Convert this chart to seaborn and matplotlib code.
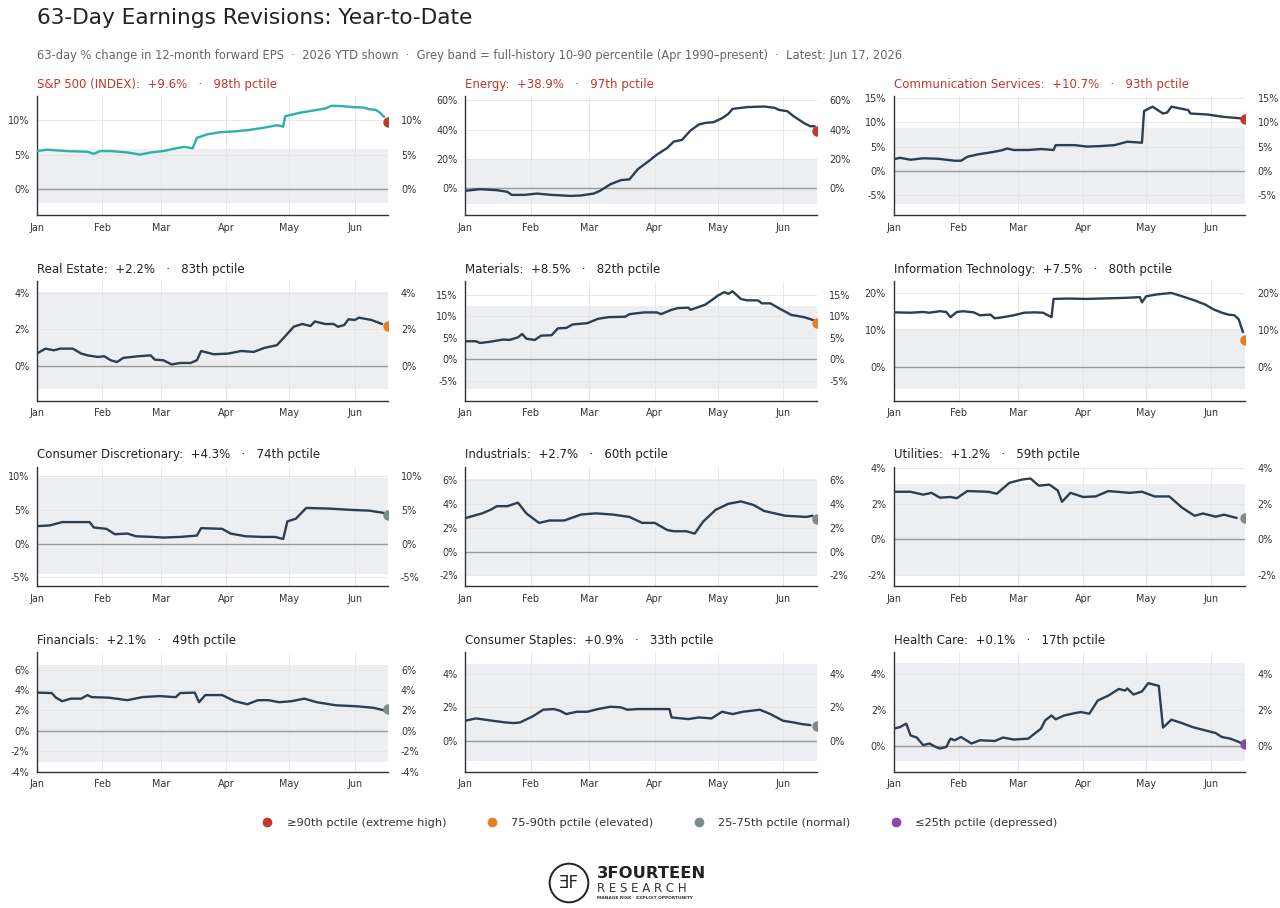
import numpy as np
import pandas as pd
import matplotlib
matplotlib.use('Agg')
from matplotlib import pyplot as plt
from matplotlib.lines import Line2D
from matplotlib.patches import Circle
from matplotlib.ticker import FuncFormatter, FixedLocator
import matplotlib.dates as mdates
import seaborn as sns

# days since Jan 1 2026 / 63-day % change in 12m fwd EPS
spx_days = [0, 5, 14, 24, 27, 30, 35, 43, 49, 54, 60, 66, 70, 74, 76, 81, 87, 93, 100, 107, 114, 117, 118,
            125, 131, 137, 140, 145, 150, 155, 158, 161, 163, 165]
spx_eps = [5.5, 5.7, 5.5, 5.4, 5.1, 5.5, 5.5, 5.3, 5.0, 5.3, 5.5, 5.9, 6.1, 5.9, 7.4, 7.9, 8.2, 8.3, 8.5, 8.8, 9.2, 9.0, 10.5,
           11.0, 11.3, 11.6, 12.0, 11.95, 11.8, 11.75, 11.5, 11.4, 11.0, 10.4]

energy_days = [0, 7, 15, 20, 22, 28, 34, 41, 50, 55, 61, 64, 69, 74, 78, 82, 87, 91, 96, 99, 103, 107, 111, 114,
               118, 122, 125, 127, 134, 142, 147, 149, 153, 156, 161, 164, 166]
energy_eps = [-1.8, -0.7, -1.4, -2.5, -4.6, -4.6, -3.7, -4.6, -5.3, -5.0, -3.7, -1.8, 2.7, 5.5, 6.0, 13.0, 18.3, 22.9,
              27.5, 31.8, 33.0, 39.4, 43.5, 44.6, 45.1, 47.8, 50.8, 54.2, 55.4, 55.8, 54.9, 53.5, 52.6, 49.2, 44.4, 42.3, 42.3]

comm_days = [0, 3, 8, 14, 21, 25, 29, 32, 35, 40, 46, 51, 54, 57, 64, 70, 76, 77, 86, 92, 98, 105, 111, 118, 119,
             123, 128, 130, 132, 140, 141, 149, 157, 165]
comm_eps = [2.4, 2.7, 2.3, 2.6, 2.5, 2.3, 2.1, 2.1, 2.9, 3.4, 3.8, 4.2, 4.6, 4.3, 4.3, 4.5, 4.3, 5.3, 5.3, 5.0, 5.1, 5.3,
            6.0, 5.8, 12.3, 13.2, 11.8, 12.0, 13.2, 12.5, 11.8, 11.6, 11.1, 10.8]

re_days = [0, 4, 8, 11, 17, 21, 24, 29, 32, 35, 38, 41, 48, 54, 56, 60, 64, 68, 73, 76, 78, 84, 91, 97, 103, 108,
           114, 118, 122, 126, 130, 132, 137, 141, 143, 146, 148, 151, 153, 159, 164]
re_eps = [0.67, 0.94, 0.85, 0.94, 0.94, 0.67, 0.57, 0.48, 0.52, 0.30, 0.20, 0.43, 0.52, 0.57, 0.33, 0.30, 0.07, 0.15,
          0.15, 0.30, 0.81, 0.63, 0.67, 0.81, 0.76, 0.98, 1.13, 1.63, 2.15, 2.30, 2.19, 2.44, 2.30, 2.30, 2.15, 2.24,
          2.56, 2.52, 2.65, 2.52, 2.30]

mat_days = [0, 5, 7, 12, 18, 21, 25, 27, 29, 33, 36, 41, 44, 48, 51, 58, 63, 68, 76, 78, 85, 91, 93, 98, 101, 106,
            107, 110, 114, 117, 120, 123, 125, 127, 131, 134, 139, 141, 145, 150, 155, 161, 166]
mat_eps = [4.2, 4.2, 3.8, 4.1, 4.6, 4.5, 5.1, 5.9, 4.8, 4.5, 5.5, 5.6, 7.2, 7.3, 8.1, 8.4, 9.4, 9.8, 9.9, 10.5, 10.9,
           10.9, 10.5, 11.5, 11.9, 12.0, 11.5, 12.0, 12.7, 13.7, 14.8, 15.6, 15.2, 15.8, 14.0, 13.7, 13.7, 13.0, 13.0,
           11.6, 10.3, 9.8, 9.0]

it_days = [0, 8, 14, 17, 22, 25, 27, 30, 33, 38, 41, 46, 48, 52, 57, 62, 67, 71, 75, 76, 83, 92, 98, 111, 117, 118,
           120, 125, 132, 136, 143, 148, 152, 156, 159, 162, 164, 166]
it_eps = [14.8, 14.7, 14.9, 14.7, 15.1, 14.9, 13.5, 14.9, 15.1, 14.8, 14.0, 14.2, 13.2, 13.5, 14.0, 14.7, 14.8, 14.7,
          13.5, 18.4, 18.5, 18.4, 18.5, 18.7, 18.9, 17.5, 19.1, 19.6, 20.0, 19.3, 18.0, 16.9, 15.6, 14.7, 14.2, 14.0,
          12.9, 9.5]

cd_days = [0, 6, 12, 25, 27, 33, 37, 43, 47, 55, 60, 68, 76, 78, 88, 92, 99, 107, 113, 117, 119, 123, 128, 139, 150,
           158, 166]
cd_eps = [2.6, 2.7, 3.2, 3.2, 2.4, 2.2, 1.4, 1.5, 1.1, 1.0, 0.9, 1.0, 1.2, 2.3, 2.2, 1.5, 1.1, 1.0, 1.0, 0.7, 3.3, 3.7,
          5.3, 5.2, 5.0, 4.9, 4.5]

ind_days = [0, 8, 12, 15, 20, 25, 29, 35, 40, 47, 55, 62, 70, 78, 84, 90, 96, 99, 105, 109, 113, 119, 125, 131, 137,
            142, 152, 162, 165]
ind_eps = [2.8, 3.2, 3.5, 3.8, 3.8, 4.1, 3.2, 2.4, 2.6, 2.6, 3.1, 3.2, 3.1, 2.9, 2.4, 2.4, 1.8, 1.7, 1.7, 1.5, 2.5, 3.5,
           4.0, 4.2, 3.9, 3.4, 3.0, 2.9, 3.0]

util_days = [0, 8, 14, 18, 22, 27, 30, 35, 45, 49, 55, 61, 65, 69, 74, 78, 80, 84, 90, 96, 102, 112, 118, 124, 131,
             137, 143, 147, 153, 157, 163]
util_eps = [2.66, 2.66, 2.5, 2.6, 2.33, 2.37, 2.3, 2.7, 2.66, 2.55, 3.16, 3.34, 3.4, 3.0, 3.06, 2.73, 2.1, 2.6, 2.37,
            2.4, 2.7, 2.6, 2.66, 2.4, 2.4, 1.78, 1.32, 1.45, 1.27, 1.38, 1.2]

fin_days = [0, 7, 9, 12, 16, 21, 24, 26, 34, 43, 50, 58, 66, 68, 75, 77, 80, 88, 94, 100, 105, 110, 115, 121, 127,
            133, 142, 152, 160, 165]
fin_eps = [3.74, 3.7, 3.25, 2.9, 3.15, 3.15, 3.5, 3.3, 3.25, 3.0, 3.3, 3.4, 3.3, 3.7, 3.74, 2.8, 3.5, 3.5, 2.9, 2.6,
           3.0, 3.0, 2.8, 2.9, 3.15, 2.8, 2.5, 2.4, 2.25, 2.0]

cs_days = [0, 5, 13, 19, 23, 26, 32, 37, 42, 45, 48, 53, 58, 63, 69, 74, 77, 82, 97, 98, 106, 111, 117, 122, 127, 132,
           140, 145, 151, 156, 160, 164]
cs_eps = [1.2, 1.34, 1.2, 1.1, 1.06, 1.1, 1.46, 1.86, 1.9, 1.8, 1.6, 1.74, 1.74, 1.9, 2.04, 2.0, 1.86, 1.9, 1.9, 1.4,
          1.3, 1.4, 1.34, 1.74, 1.6, 1.74, 1.86, 1.6, 1.2, 1.1, 1.0, 0.94]

hc_days = [0, 3, 6, 8, 11, 14, 17, 20, 22, 25, 27, 29, 32, 37, 41, 48, 52, 57, 64, 67, 70, 72, 75, 77, 81, 86, 89, 93,
           97, 102, 107, 110, 111, 114, 118, 121, 124, 126, 128, 132, 137, 142, 148, 153, 156, 160, 164, 165]
hc_eps = [0.97, 1.06, 1.25, 0.6, 0.48, 0.06, 0.15, -0.04, -0.13, -0.04, 0.42, 0.33, 0.51, 0.15, 0.33, 0.29, 0.48,
          0.37, 0.42, 0.7, 0.97, 1.43, 1.7, 1.49, 1.7, 1.83, 1.89, 1.8, 2.53, 2.8, 3.17, 3.08, 3.2, 2.86, 3.03, 3.49,
          3.4, 3.34, 1.03, 1.47, 1.28, 1.06, 0.88, 0.73, 0.51, 0.42, 0.24, 0.18]

names = ["S&P 500 (INDEX)", "Energy", "Communication Services", "Real Estate", "Materials",
         "Information Technology", "Consumer Discretionary", "Industrials", "Utilities",
         "Financials", "Consumer Staples", "Health Care"]
latest = [9.6, 38.9, 10.7, 2.2, 8.5, 7.5, 4.3, 2.7, 1.2, 2.1, 0.9, 0.1]
pctile = [98, 97, 93, 83, 82, 80, 74, 60, 59, 49, 33, 17]
# full-history 10th / 90th percentile band
band_lo = [-1.9, -10.5, -6.7, -1.28, -6.9, -5.8, -4.5, -2.0, -2.0, -3.05, -1.2, -0.8]
band_hi = [5.84, 20.0, 8.9, 4.05, 12.3, 10.2, 9.8, 6.1, 3.1, 6.5, 4.6, 4.6]

all_days = [spx_days, energy_days, comm_days, re_days, mat_days, it_days,
            cd_days, ind_days, util_days, fin_days, cs_days, hc_days]
all_eps = [spx_eps, energy_eps, comm_eps, re_eps, mat_eps, it_eps,
           cd_eps, ind_eps, util_eps, fin_eps, cs_eps, hc_eps]

y_lims = [(-3.7, 13.4), (-18.5, 63), (-9.1, 15.4), (-1.93, 4.65), (-9.6, 18.1), (-8.9, 23.1),
          (-6.3, 11.4), (-2.9, 7.1), (-2.6, 4.05), (-4.0, 7.7), (-1.84, 5.3), (-1.4, 5.2)]
y_ticks = [[0, 5, 10], [0, 20, 40, 60], [-5, 0, 5, 10, 15], [0, 2, 4], [-5, 0, 5, 10, 15], [0, 10, 20],
           [-5, 0, 5, 10], [-2, 0, 2, 4, 6], [-2, 0, 2, 4], [-4, -2, 0, 2, 4, 6], [0, 2, 4], [0, 2, 4]]

RED, ORANGE, GREY, PURPLE = '#c0392b', '#e67e22', '#7f8c8d', '#8e44ad'
LINE = '#2c3e50'
TEAL = '#2ab3a6'
BAND = '#eceef1'


def pct_color(p):
    if p >= 90:
        return RED
    if p >= 75:
        return ORANGE
    if p > 25:
        return GREY
    return PURPLE


sns.set_style("white")
plt.rcParams['font.family'] = ['DejaVu Sans']

start = pd.Timestamp('2026-01-01')
end = pd.Timestamp('2026-06-17')
pct_fmt = FuncFormatter(lambda v, _: f"{v:.0f}%")

fig, axes = plt.subplots(4, 3, figsize=(12.8, 9.08), dpi=100)
fig.subplots_adjust(left=0.0289, right=0.9727, top=0.8943, bottom=0.1503, wspace=0.219, hspace=0.555)

for i, ax in enumerate(axes.flat):
    df = pd.DataFrame({'date': start + pd.to_timedelta(all_days[i], unit='D'), 'eps': all_eps[i]})
    ax.axhspan(band_lo[i], band_hi[i], color=BAND, lw=0, zorder=0.8)
    ax.axhline(0, color='#9a9a9a', lw=1.0, zorder=1.6)
    sns.lineplot(data=df, x='date', y='eps', ax=ax, color=TEAL if i == 0 else LINE, lw=1.7, zorder=3)
    ax.plot([end], [latest[i]], 'o', color=pct_color(pctile[i]), ms=6.5, zorder=4, clip_on=True)

    ax.set_xlim(start, end)
    ax.set_ylim(*y_lims[i])
    ax.set_xlabel('')
    ax.set_ylabel('')
    ax.xaxis.set_major_locator(mdates.MonthLocator())
    ax.xaxis.set_major_formatter(mdates.DateFormatter('%b'))
    ax.yaxis.set_major_locator(FixedLocator(y_ticks[i]))
    ax.yaxis.set_major_formatter(pct_fmt)
    ax.grid(True, color='#e4e4e4', lw=0.6)
    ax.set_axisbelow('line')
    for s in ['top', 'right']:
        ax.spines[s].set_visible(False)
    for s in ['left', 'bottom']:
        ax.spines[s].set_color('#333333')
        ax.spines[s].set_linewidth(1.0)
    ax.tick_params(axis='both', labelsize=6.9, colors='#333333', length=3, width=0.8, pad=2.5)

    sec = ax.secondary_yaxis('right')
    sec.yaxis.set_major_locator(FixedLocator(y_ticks[i]))
    sec.yaxis.set_major_formatter(pct_fmt)
    sec.spines['right'].set_visible(False)
    sec.tick_params(axis='y', labelsize=6.9, colors='#333333', length=0, pad=9)

    sign = '+' if latest[i] >= 0 else ''
    title = f"{names[i]}:  {sign}{latest[i]:.1f}%   \u00b7   {pctile[i]}th pctile"
    ax.text(0, 1.10, title, transform=ax.transAxes, ha='left', va='center', fontsize=8.45,
            color=RED if i < 3 else '#222222')

fig.text(37 / 1280, 1 - 18 / 908, "63-Day Earnings Revisions: Year-to-Date", fontsize=15.6,
         color='#222222', va='center', ha='left')
fig.text(37 / 1280, 1 - 55 / 908,
         "63-day % change in 12-month forward EPS  \u00b7  2026 YTD shown  \u00b7  Grey band = full-history 10-90 "
         "percentile (Apr 1990\u2013present)  \u00b7  Latest: Jun 17, 2026",
         fontsize=8.3, color='#666666', va='center', ha='left')

labels = ["\u226590th pctile (extreme high)", "75-90th pctile (elevated)",
          "25-75th pctile (normal)", "\u226425th pctile (depressed)"]
handles = [Line2D([], [], marker='o', ls='', color=c, ms=6) for c in [RED, ORANGE, GREY, PURPLE]]
fig.legend(handles, labels, loc='center', bbox_to_anchor=(0.513, 1 - 823 / 908), ncol=4, frameon=False,
           fontsize=8.2, handletextpad=0.7, columnspacing=3.0, labelcolor='#333333')

# logo
lax = fig.add_axes([548 / 1280, 1 - 904 / 908, 42 / 1280, 42 / 908])
lax.set_xlim(0, 1)
lax.set_ylim(0, 1)
lax.set_aspect('equal')
lax.axis('off')
lax.add_patch(Circle((0.5, 0.5), 0.46, fill=False, lw=1.4, color='#222222'))
lax.text(0.5, 0.5, "\u018eF", ha='center', va='center', fontsize=12, color='#222222')
fig.text(597 / 1280, 1 - 874 / 908, "3FOURTEEN", fontsize=11.8, fontweight='bold', color='#222222',
         ha='left', va='center')
fig.text(597 / 1280, 1 - 888 / 908, "R E S E A R C H", fontsize=8.5, color='#333333', ha='left', va='center')
fig.text(597 / 1280, 1 - 898 / 908, "MANAGE RISK \u00b7 EXPLOIT OPPORTUNITY", fontsize=3.2, color='#333333',
         ha='left', va='center', fontweight='bold')

plt.savefig('out.png', dpi=100, facecolor='white')
